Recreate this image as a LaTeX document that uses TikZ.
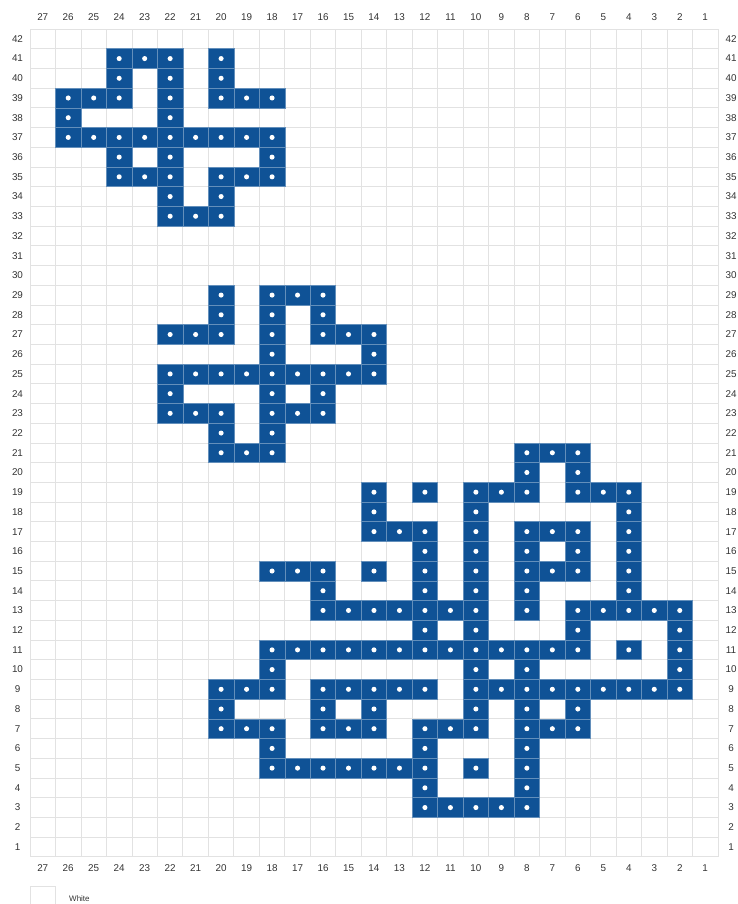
\documentclass[tikz,border=0pt]{standalone}
\usepackage{fontspec}
\setmainfont{Liberation Sans}
\usetikzlibrary{positioning}

\definecolor{stitchblue}{RGB}{15,82,150}
\definecolor{gridgray}{RGB}{226,226,226}
\definecolor{labelgray}{RGB}{51,51,51}

% cell geometry (px): column c, row r
\newcommand{\cx}[1]{30+(27-#1)*25.48}
\newcommand{\cy}[1]{29+(42-#1)*19.71}

\begin{document}
\begin{tikzpicture}[
  x=0.75pt, y=-0.75pt,
  font=\fontsize{7.4}{8}\selectfont,
  numlabel/.style={text=labelgray, inner sep=0pt},
  stitchcell/.style={fill=stitchblue, draw=stitchblue!65!white, line width=0.4pt},
  gridrule/.style={draw=gridgray, line width=0.6pt}
]
\useasboundingbox (0,0) rectangle (738,904);

% grid
\foreach \c in {0,...,27}
  \draw[gridrule] ({30+\c*25.48},29) -- ({30+\c*25.48},{29+42*19.71});
\foreach \r in {0,...,42}
  \draw[gridrule] (30,{29+\r*19.71}) -- ({30+27*25.48},{29+\r*19.71});

% column and row numbers
\foreach \c in {1,...,27} {
  \node[numlabel] (ct-\c) at ({\cx{\c}+12.74},17.5) {\c};
  \node[numlabel] (cb-\c) at ({\cx{\c}+12.74},868.5) {\c};
}
\foreach \r in {1,...,42} {
  \node[numlabel] (rl-\r) at (17.5,{\cy{\r}+9.85}) {\r};
  \node[numlabel] (rr-\r) at (731,{\cy{\r}+9.85}) {\r};
}

% filled stitches, row by row
\foreach \r/\cols in {
  41/{24,23,22,20}, 40/{24,22,20}, 39/{26,25,24,22,20,19,18}, 38/{26,22},
  37/{26,25,24,23,22,21,20,19,18}, 36/{24,22,18}, 35/{24,23,22,20,19,18},
  34/{22,20}, 33/{22,21,20},
  29/{20,18,17,16}, 28/{20,18,16}, 27/{22,21,20,18,16,15,14}, 26/{18,14},
  25/{22,21,20,19,18,17,16,15,14}, 24/{22,18,16}, 23/{22,21,20,18,17,16},
  22/{20,18}, 21/{20,19,18,8,7,6},
  20/{8,6}, 19/{14,12,10,9,8,6,5,4}, 18/{14,10,4},
  17/{14,13,12,10,8,7,6,4}, 16/{12,10,8,6,4},
  15/{18,17,16,14,12,10,8,7,6,4}, 14/{16,12,10,8,4},
  13/{16,15,14,13,12,11,10,8,6,5,4,3,2}, 12/{12,10,6,2},
  11/{18,17,16,15,14,13,12,11,10,9,8,7,6,4,2}, 10/{18,10,8,2},
  9/{20,19,18,16,15,14,13,12,10,9,8,7,6,5,4,3,2}, 8/{20,16,14,10,8,6},
  7/{20,19,18,16,15,14,12,11,10,8,7,6}, 6/{18,12,8},
  5/{18,17,16,15,14,13,12,10,8}, 4/{12,8}, 3/{12,11,10,9,8}} {
  \foreach \c in \cols {
    \draw[stitchcell] ({\cx{\c}},{\cy{\r}}) rectangle ++(25.48,19.71);
    \fill[white] ({\cx{\c}+12.74},{\cy{\r}+9.85}) circle[radius=1.9pt];
  }
}

% legend
\node[draw=gridgray, line width=0.6pt, minimum width=19.1pt, minimum height=16pt,
  inner sep=0pt, anchor=north west] (legend-box) at (30,886) {};
\node[numlabel, font=\fontsize{6}{7}\selectfont, right=9.5pt of legend-box.east,
  anchor=west, yshift=-1.5pt] (legend-text) {White};
\end{tikzpicture}
\end{document}
